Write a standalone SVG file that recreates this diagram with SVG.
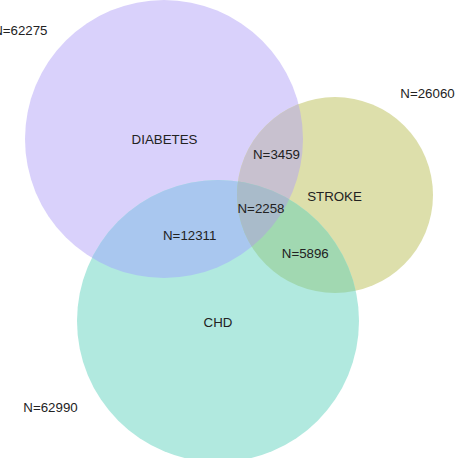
<svg xmlns="http://www.w3.org/2000/svg" width="458" height="458" viewBox="0 0 458 458">
<style>
text{font-family:"Liberation Sans",Arial,sans-serif;font-size:13.3px;fill:#222;text-anchor:middle}
</style>
<defs>
<clipPath id="cD"><circle cx="164" cy="139" r="139"/></clipPath>
<clipPath id="cS"><circle cx="335" cy="195" r="98"/></clipPath>
<clipPath id="cC"><circle cx="218" cy="321" r="141"/></clipPath>
</defs>
<rect width="458" height="458" fill="#ffffff"/>
<g id="diabetes">
<circle cx="164" cy="139" r="139" fill="#d9d1fb"/>
<text x="164.5" y="144">DIABETES</text>
<text x="47.5" y="35" style="text-anchor:end">N=62275</text>
</g>
<g id="stroke">
<circle cx="335" cy="195" r="98" fill="#dddfab"/>
<text x="334.5" y="201">STROKE</text>
<text x="427.5" y="98">N=26060</text>
</g>
<g id="chd">
<circle cx="218" cy="321" r="141" fill="#b1e9df"/>
<text x="218" y="327">CHD</text>
<text x="50.5" y="412">N=62990</text>
</g>
<g id="overlaps">
<g clip-path="url(#cD)"><circle cx="335" cy="195" r="98" fill="#c8c1cf"/></g>
<g clip-path="url(#cD)"><circle cx="218" cy="321" r="141" fill="#a9c7ef"/></g>
<g clip-path="url(#cS)"><circle cx="218" cy="321" r="141" fill="#a1d8b1"/></g>
<g clip-path="url(#cD)"><g clip-path="url(#cS)"><circle cx="218" cy="321" r="141" fill="#a9bbca"/></g></g>
</g>
<g id="region-labels">
<text x="276.5" y="158.5">N=3459</text>
<text x="261" y="213">N=2258</text>
<text x="189.7" y="240">N=12311</text>
<text x="305.3" y="258.3">N=5896</text>
</g>
</svg>
